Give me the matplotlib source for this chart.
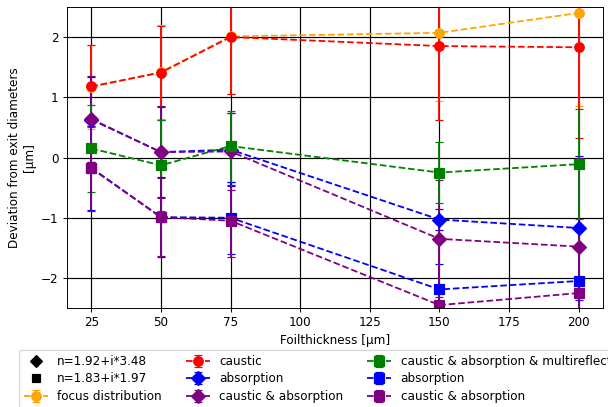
import numpy as np
import matplotlib
matplotlib.use("Agg")
import matplotlib.pyplot as plt
from matplotlib.lines import Line2D

# foil thickness in um
thickness = [25, 50, 75, 150, 200]

# n=1.92+i*3.48 (diamonds)
focus = [1.17, 1.42, 2.01, 2.07, 2.40]
focus_err = [0.69, 0.78, 0.96, 1.14, 1.55]
caustic = [1.18, 1.41, 2.00, 1.85, 1.83]
caustic_err = [0.68, 0.78, 0.95, 1.22, 1.51]
absorp_d = [0.63, 0.09, 0.13, -1.03, -1.17]
absorp_d_err = [0.70, 0.75, 0.61, 0.17, 1.20]
caus_abs_d = [0.64, 0.09, 0.10, -1.35, -1.48]
caus_abs_d_err = [0.71, 0.76, 0.64, 0.97, 1.48]

# n=1.83+i*1.97 (squares)
multirefl = [0.15, -0.13, 0.19, -0.25, -0.11]
multirefl_err = [0.73, 0.75, 0.59, 0.50, 0.91]
absorp_s = [-0.17, -0.99, -1.00, -2.19, -2.05]
absorp_s_err = [0.70, 0.66, 0.60, 0.43, 0.90]
caus_abs_s = [-0.18, -0.99, -1.05, -2.45, -2.25]
caus_abs_s_err = [0.70, 0.65, 0.60, 1.08, 1.10]

fig = plt.figure(figsize=(608 / 86, 407 / 86), dpi=86)
ax = fig.add_axes([0.110, 0.243, 0.882, 0.740])

kw = dict(linestyle='--', capsize=3, markersize=8)
h_focus = ax.errorbar(thickness, focus, yerr=focus_err, fmt='o', color='orange', **kw)
h_caus = ax.errorbar(thickness, caustic, yerr=caustic_err, fmt='o', color='red', **kw)
h_abs_d = ax.errorbar(thickness, absorp_d, yerr=absorp_d_err, fmt='D', color='blue', **kw)
h_ca_d = ax.errorbar(thickness, caus_abs_d, yerr=caus_abs_d_err, fmt='D', color='purple', **kw)
h_multi = ax.errorbar(thickness, multirefl, yerr=multirefl_err, fmt='s', color='green', **kw)
h_abs_s = ax.errorbar(thickness, absorp_s, yerr=absorp_s_err, fmt='s', color='blue', **kw)
h_ca_s = ax.errorbar(thickness, caus_abs_s, yerr=caus_abs_s_err, fmt='s', color='purple', **kw)

ax.set_ylim(-2.5, 2.5)
ax.set_yticks([-2, -1, 0, 1, 2])
ax.set_xticks([25, 50, 75, 100, 125, 150, 175, 200])
ax.grid(True, color='black', linewidth=1)
ax.set_axisbelow(True)
ax.set_xlabel('Foilthickness [µm]')
ax.set_ylabel('Deviation from exit diameters\n[µm]')

p_d = Line2D([], [], marker='D', color='black', linestyle='none', markersize=7)
p_s = Line2D([], [], marker='s', color='black', linestyle='none', markersize=7)
handles = [p_d, p_s, h_focus, h_caus, h_abs_d, h_ca_d, h_multi, h_abs_s, h_ca_s]
labels = ['n=1.92+i*3.48', 'n=1.83+i*1.97', 'focus distribution', 'caustic', 'absorption',
          'caustic & absorption', 'caustic & absorption & multireflection', 'absorption',
          'caustic & absorption']
# legend runs past the right edge, as in the original figure
ax.legend(handles, labels, ncol=3, loc='upper left', bbox_to_anchor=(19 / 608, 1 - 350 / 407),
          bbox_transform=fig.transFigure, borderaxespad=0, labelspacing=0.38)

fig.savefig('out.png', dpi=86)
